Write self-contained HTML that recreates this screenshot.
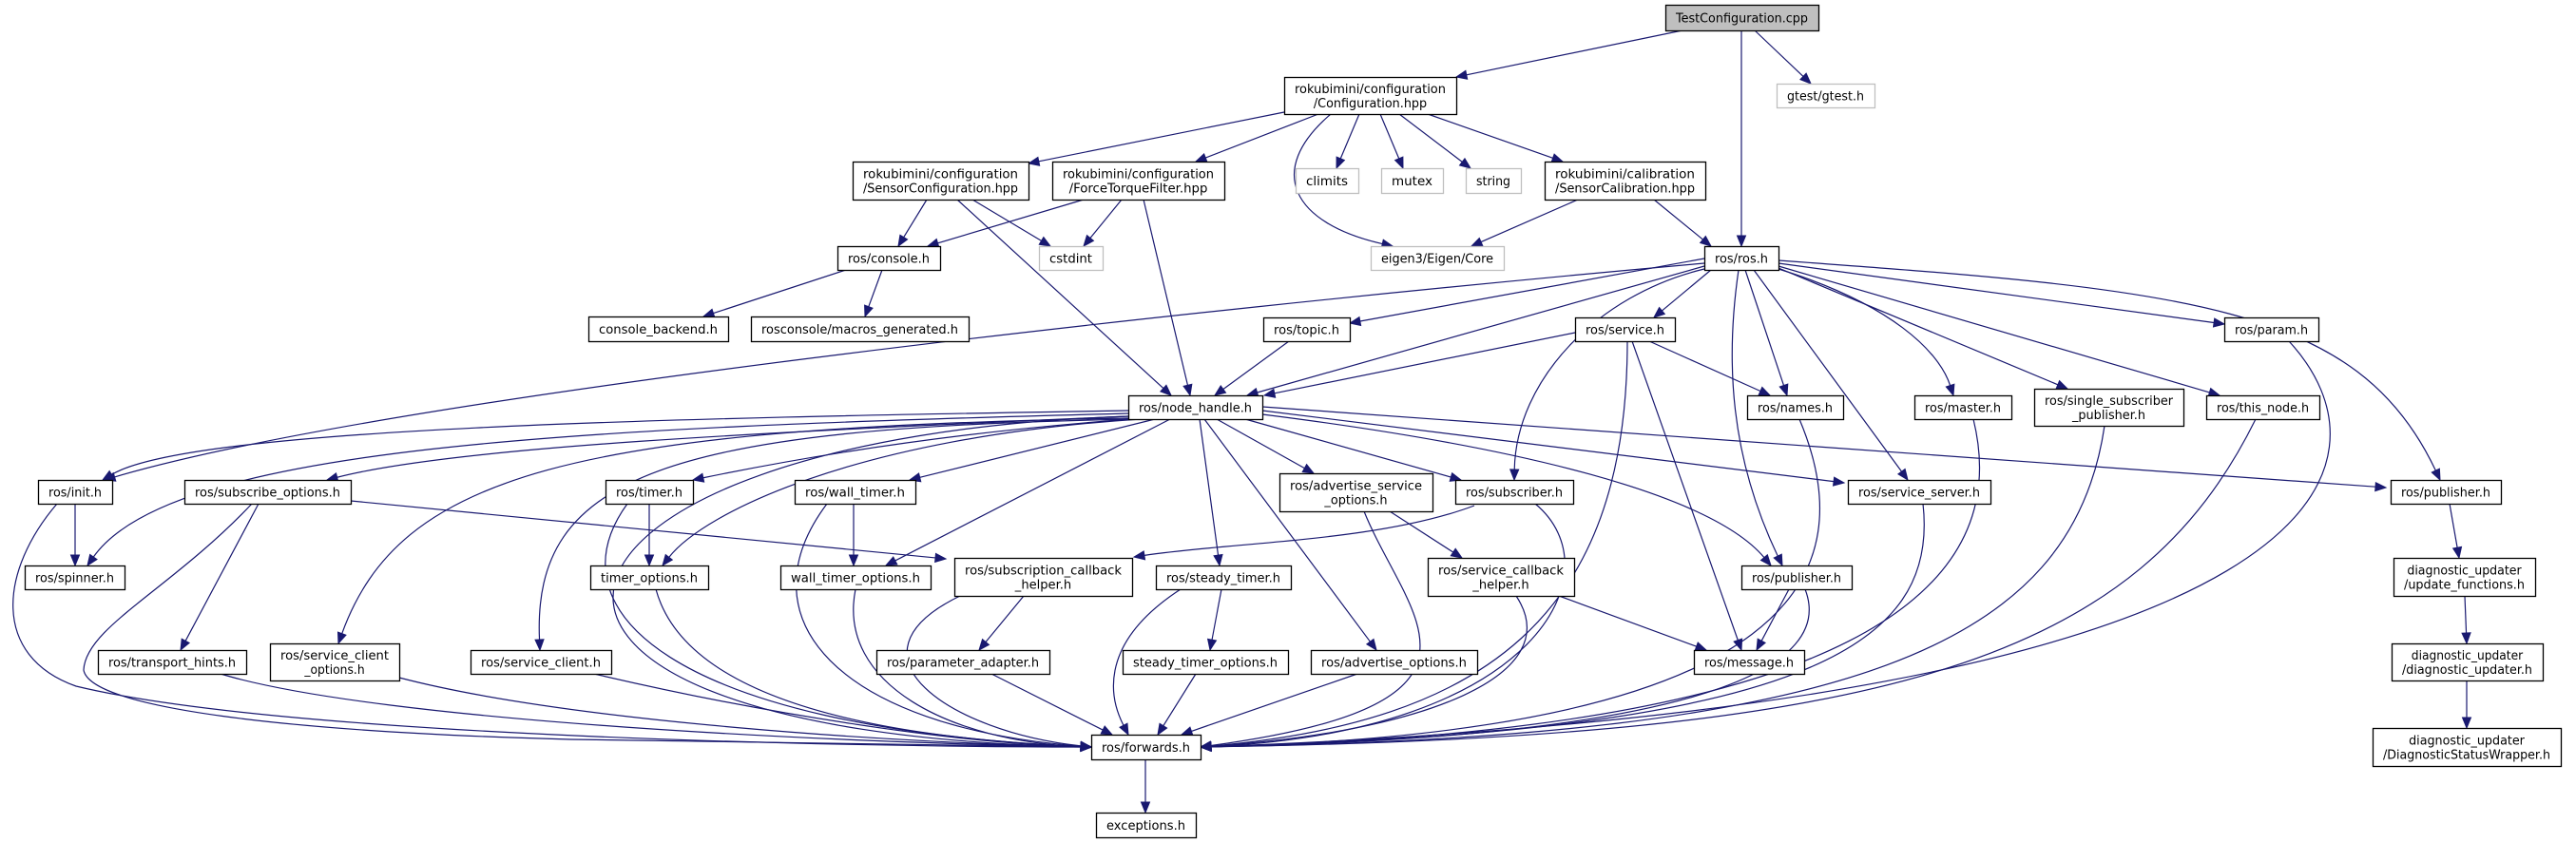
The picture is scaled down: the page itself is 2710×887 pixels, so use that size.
<!DOCTYPE html>
<html><head><meta charset="utf-8"><style>
html,body{margin:0;padding:0;background:#fff;}
svg{display:block;}
text{font-family:"DejaVu Sans","Liberation Sans",sans-serif;font-size:13px;fill:#000;}
</style></head><body>
<svg id="g" width="2710" height="887" viewBox="0 0 2710 887" xmlns="http://www.w3.org/2000/svg"></svg>
<script>
const N={
 test:[1752,5,1913,32,["TestConfiguration.cpp"],'r'],
 conf:[1351,81,1532,120,["rokubimini/configuration","/Configuration.hpp"]],
 sconf:[897,170,1082,210,["rokubimini/configuration","/SensorConfiguration.hpp"]],
 ftf:[1107,170,1288,210,["rokubimini/configuration","/ForceTorqueFilter.hpp"]],
 climits:[1363,177,1429,203,["climits"],'g'],
 mutex:[1453,177,1518,203,["mutex"],'g'],
 string:[1542,177,1600,203,["string"],'g'],
 scal:[1625,170,1794,210,["rokubimini/calibration","/SensorCalibration.hpp"]],
 gtest:[1869,88,1972,113,["gtest/gtest.h"],'g'],
 console:[881,259,989,284,["ros/console.h"]],
 cstdint:[1093,259,1160,284,["cstdint"],'g'],
 eigen:[1442,259,1582,284,["eigen3/Eigen/Core"],'g'],
 ros:[1793,259,1871,284,["ros/ros.h"]],
 cback:[619,333,766,359,["console_backend.h"]],
 macros:[790,333,1019,359,["rosconsole/macros_generated.h"]],
 topic:[1329,334,1420,359,["ros/topic.h"]],
 service:[1657,334,1762,359,["ros/service.h"]],
 param:[2340,334,2439,359,["ros/param.h"]],
 nh:[1187,416,1328,441,["ros/node_handle.h"]],
 names:[1838,416,1939,441,["ros/names.h"]],
 master:[2014,416,2116,441,["ros/master.h"]],
 ssp:[2140,409,2297,448,["ros/single_subscriber","_publisher.h"]],
 thisnode:[2321,416,2440,441,["ros/this_node.h"]],
 init:[40,505,118,530,["ros/init.h"]],
 subopt:[194,505,369,530,["ros/subscribe_options.h"]],
 timer:[637,505,729,530,["ros/timer.h"]],
 wtimer:[836,505,963,530,["ros/wall_timer.h"]],
 aso:[1346,498,1507,538,["ros/advertise_service","_options.h"]],
 sub:[1531,505,1655,530,["ros/subscriber.h"]],
 ssrv:[1944,505,2094,530,["ros/service_server.h"]],
 pubR:[2515,505,2631,530,["ros/publisher.h"]],
 spinner:[26,595,131,620,["ros/spinner.h"]],
 topt:[621,595,745,620,["timer_options.h"]],
 wtopt:[821,595,979,620,["wall_timer_options.h"]],
 scbh:[1004,587,1191,627,["ros/subscription_callback","_helper.h"]],
 stimer:[1216,595,1358,620,["ros/steady_timer.h"]],
 svcbh:[1502,587,1656,627,["ros/service_callback","_helper.h"]],
 pubM:[1832,595,1948,620,["ros/publisher.h"]],
 upf:[2518,587,2667,627,["diagnostic_updater","/update_functions.h"]],
 th:[103,684,259,709,["ros/transport_hints.h"]],
 sco:[284,677,420,716,["ros/service_client","_options.h"]],
 sc:[495,684,643,709,["ros/service_client.h"]],
 pa:[922,684,1104,709,["ros/parameter_adapter.h"]],
 sto:[1181,684,1355,709,["steady_timer_options.h"]],
 ao:[1379,684,1554,709,["ros/advertise_options.h"]],
 msg:[1782,684,1898,709,["ros/message.h"]],
 du:[2516,677,2675,716,["diagnostic_updater","/diagnostic_updater.h"]],
 fw:[1148,773,1263,799,["ros/forwards.h"]],
 dsw:[2496,766,2694,806,["diagnostic_updater","/DiagnosticStatusWrapper.h"]],
 exc:[1153,855,1258,881,["exceptions.h"]]
};
const L=[1148,786],R=[1263,786];
const E=[
 [[1770,32],[1532,81]],[[1832,32],[1832,259]],[[1846,32],[1905,88]],
 [[1351,118],[1082,172]],[[1387,120],[1258,170]],[[1430,120],[1406,177]],[[1452,120],[1476,177]],
 [[1472,120],[1547,177]],[[1502,120],[1644,170]],[[1400,120],[1465,259],[1330,180],[1360,235]],
 [[975,210],[945,259]],[[1023,210],[1105,259]],[[1007,210],[1232,416]],
 [[1140,210],[976,259]],[[1180,210],[1140,259]],[[1203,210],[1252,416]],
 [[1660,210],[1548,259]],[[1740,210],[1800,259]],
 [[890,284],[740,333]],[[928,284],[910,333]],
 [[1793,277],[110,505],[1200,330],[400,420]],
 [[1793,272],[1420,340]],[[1793,280],[1312,416]],[[1800,284],[1740,334]],
 [[1793,283],[1593,505],[1680,310],[1595,400]],
 [[1836,284],[1880,416]],[[1829,284],[1875,595],[1815,380],[1820,480]],
 [[1845,284],[2007,505]],
 [[1871,283],[2055,416],[1990,320],[2040,370]],
 [[1871,282],[2175,409]],[[1871,280],[2335,416]],[[1871,277],[2340,341]],
 [[1871,274],[2567,505],[2300,305],[2480,320]],
 [[1657,350],[1330,416]],[[1735,359],[1862,416]],[[1717,359],[1832,684]],
 [[1712,359],R,[1712,650],[1560,760]],
 [[1356,359],[1278,416]],
 [[1187,432],[108,505],[700,440],[200,450]],
 [[1187,435],[92,595],[600,450],[180,470]],
 [[1187,438],[344,505],[800,455],[480,470]],
 [[1187,440],[356,677],[600,450],[420,500]],
 [[1195,441],[568,684],[700,450],[560,500]],
 [[1190,441],[729,505],[1000,455],[850,480]],
 [[1200,441],[697,595],[900,460],[740,540]],
 [[1215,441],[957,505]],[[1231,441],[932,595]],
 [[1187,438],L,[530,460],[420,770]],
 [[1262,441],[1283,595]],[[1280,441],[1382,498]],[[1267,441],[1448,684]],
 [[1310,441],[1537,505]],[[1328,432],[1940,508]],
 [[1328,436],[1863,595],[1600,470],[1800,520]],
 [[1328,428],[2510,513]],
 [[369,527],[995,588]],[[1551,532],[1193,586],[1450,570],[1300,570]],
 [[272,530],[190,684]],
 [[79,530],[79,595]],
 ['P','M60,530 C0,600 -10,690 80,722 C300,775 900,786 1137,786'],
 ['P','M265,530 C180,620 90,660 88,705 C95,745 300,770 600,778 C900,784 1050,786 1137,786'],
 [[683,530],[683,595]],[[660,530],L,[580,640],[700,765]],
 [[898,530],[898,595]],[[870,530],L,[780,650],[880,765]],
 [[690,620],L,[720,730],[900,775]],[[900,620],L,[880,720],[1000,780]],
 [[232,709],L,[400,760],[900,782]],[[420,713],L,[600,760],[950,782]],[[625,709],L,[800,750],[1000,782]],
 [[1010,627],L,[880,690],[1000,770]],
 [[1077,627],[1030,684]],[[1043,709],[1170,773]],
 [[1242,620],[1187,773],[1150,680],[1170,740]],
 [[1285,620],[1273,684]],[[1258,709],[1218,773]],[[1428,709],[1243,773]],
 [[1462,538],[1538,587]],
 [[1435,538],R,[1480,650],[1600,740]],
 [[1615,530],R,[1700,600],[1620,770]],
 [[1595,627],R,[1650,710],[1500,770]],
 [[1640,627],[1795,684]],
 [[2023,530],R,[2040,680],[1900,770]],
 [[1882,620],[1848,684]],[[1899,620],R,[1930,700],[1800,775]],
 [[1893,441],R,[1960,600],[1900,770]],
 [[2076,441],R,[2120,620],[1950,770]],
 [[2214,448],R,[2180,680],[1950,775]],
 [[2373,441],R,[2250,690],[2000,775]],
 [[2408,359],R,[2520,480],[2500,740]],
 [[1205,799],[1205,855]],
 [[2577,530],[2587,587]],[[2593,627],[2595,677]],[[2595,716],[2595,766]]
];
const svg=document.getElementById('g');const NS='http://www.w3.org/2000/svg';
function el(t,a,txt){const e=document.createElementNS(NS,t);for(const k in a)e.setAttribute(k,a[k]);if(txt!==undefined)e.textContent=txt;svg.appendChild(e);return e;}
const C='#191970';
function head(t,dx,dy){const b=[t[0]-dx*11,t[1]-dy*11];const px=-dy*4.5,py=dx*4.5;
 el('polygon',{points:`${t[0]},${t[1]} ${b[0]+px},${b[1]+py} ${b[0]-px},${b[1]-py}`,fill:C,stroke:C,'stroke-width':1});}
for(const e of E){
 if(e[0]==='P'){el('path',{d:e[1],fill:'none',stroke:C,'stroke-width':1.2});head(L,1,0);continue;}
 let [s,t,c1,c2]=e;
 let from=c2||s;
 let dx=t[0]-from[0],dy=t[1]-from[1];let d=Math.hypot(dx,dy)||1;dx/=d;dy/=d;
 const b=[t[0]-dx*11,t[1]-dy*11];
 let p;
 if(c1){p=`M${s[0]},${s[1]} C${c1[0]},${c1[1]} ${c2[0]},${c2[1]} ${b[0]},${b[1]}`;}
 else p=`M${s[0]},${s[1]} L${b[0]},${b[1]}`;
 el('path',{d:p,fill:'none',stroke:C,'stroke-width':1.2});
 head(t,dx,dy);
}
for(const k in N){
 const [x1,y1,x2,y2,lines,kind]=N[k];
 el('rect',{x:x1+0.5,y:y1+0.5,width:x2-x1,height:y2-y1,fill:kind==='r'?'#bfbfbf':'#fff',stroke:kind==='g'?'#bfbfbf':'#000','stroke-width':1.3});
 const cx=(x1+x2)/2,cy=(y1+y2)/2;
 const mx=Math.max(...lines.map(l=>l.length));
 const tw=x2-x1-22;
 lines.forEach((l,i)=>{
  const y=lines.length===1?cy+5:cy+5+(i===0?-7.5:7.5);
  el('text',{x:cx,y:y,'text-anchor':'middle',textLength:(tw*l.length/mx).toFixed(1),lengthAdjust:'spacingAndGlyphs'},l);
 });
}
</script>
</body></html>
